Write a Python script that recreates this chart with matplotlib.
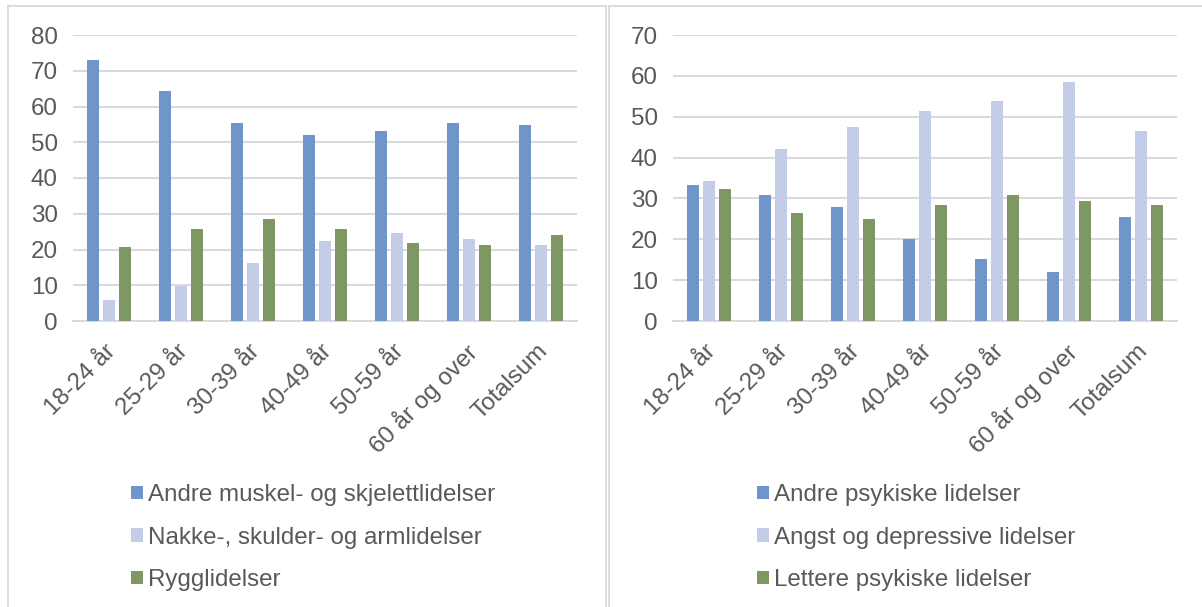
import matplotlib
matplotlib.use("Agg")
import matplotlib.pyplot as plt
from matplotlib.patches import Rectangle, Patch
import matplotlib.transforms as mtransforms
import numpy as np

plt.rcParams['font.family'] = ['Liberation Sans', 'DejaVu Sans']

categories = ["18-24 år", "25-29 år", "30-39 år", "40-49 år", "50-59 år", "60 år og over", "Totalsum"]

left_labels = ["Andre muskel- og skjelettlidelser", "Nakke-, skulder- og armlidelser", "Rygglidelser"]
left_andre = [72.9, 64.4, 55.5, 52.1, 53.2, 55.5, 54.9]
left_nakke = [6.0, 9.9, 16.1, 22.3, 24.5, 22.9, 21.2]
left_rygg = [20.6, 25.7, 28.5, 25.7, 21.7, 21.2, 24.0]

right_labels = ["Andre psykiske lidelser", "Angst og depressive lidelser", "Lettere psykiske lidelser"]
right_andre = [33.3, 30.8, 27.9, 20.0, 15.1, 12.1, 25.4]
right_angst = [34.3, 42.1, 47.5, 51.5, 53.9, 58.4, 46.6]
right_lettere = [32.3, 26.4, 24.9, 28.4, 30.8, 29.3, 28.4]

colors = ["#6F95CB", "#C4CDE8", "#7F9762"]
grid_c = "#D9D9D9"
text_c = "#595959"
FS = 17.4

W, H = 1202, 607
fig = plt.figure(figsize=(W / 100, H / 100), dpi=100)

# panel borders
for (x0, x1) in [(8, 605.5), (609, 1210)]:
    fig.patches.append(Rectangle((x0 / W, -0.05), (x1 - x0) / W, 1.05 - 6 / H,
                                 transform=fig.transFigure, fill=False,
                                 edgecolor=grid_c, lw=1.3))


def draw(ax, series, labels, ymax, leg_x):
    x = np.arange(len(categories))
    step = 16 / 72
    width = 12 / 72
    for i, (vals, lab) in enumerate(zip(series, labels)):
        ax.bar(x + (i - 1) * step, vals, width=width, color=colors[i], label=lab, zorder=3)
    ax.set_xlim(-0.5, len(categories) - 0.5)
    ax.set_ylim(0, ymax)
    ax.set_yticks(np.arange(0, ymax + 1, 10))
    ax.yaxis.grid(True, color=grid_c, lw=1.4, zorder=0)
    ax.set_axisbelow(True)
    for s in ["top", "right", "left"]:
        ax.spines[s].set_visible(False)
    ax.spines["bottom"].set_color(grid_c)
    ax.spines["bottom"].set_linewidth(1.4)
    ax.tick_params(axis="both", length=0, labelsize=FS, labelcolor=text_c)
    ax.tick_params(axis="y", pad=11)
    ax.tick_params(axis="x", pad=8)
    ax.set_xticks(x)
    ax.set_xticklabels(categories, rotation=45, ha="right", va="top", rotation_mode="anchor")
    off = mtransforms.ScaledTranslation(-4 / 100, -8 / 100, fig.dpi_scale_trans)
    for lbl in ax.get_xticklabels():
        lbl.set_transform(lbl.get_transform() + off)
    handles = [Patch(facecolor=c) for c in colors]
    fig.legend(handles, labels, loc="upper left", bbox_to_anchor=(leg_x / W, 1 - 484 / H),
               frameon=False, fontsize=FS, labelcolor=text_c, handlelength=0.5,
               handleheight=0.5, handletextpad=0.2, labelspacing=0.85,
               borderpad=0, borderaxespad=0)


axl = fig.add_axes([73 / W, (H - 321) / H, 504 / W, 286 / H])
draw(axl, [left_andre, left_nakke, left_rygg], left_labels, 80, 131)
axr = fig.add_axes([673 / W, (H - 321) / H, 504 / W, 286 / H])
draw(axr, [right_andre, right_angst, right_lettere], right_labels, 70, 757)

fig.savefig("out.png", dpi=100)
